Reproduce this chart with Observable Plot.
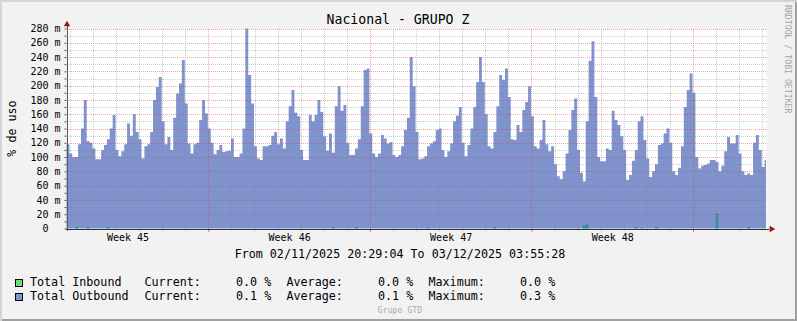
<!DOCTYPE html>
<html>
<head>
<meta charset="utf-8">
<script src="https://cdn.jsdelivr.net/npm/d3@7"></script>
<script src="https://cdn.jsdelivr.net/npm/@observablehq/plot@0.6"></script>
<style>
  html, body { margin: 0; padding: 0; background: #f2f2f2; }
  #wrap { position: relative; width: 797px; height: 321px; background: #f2f2f2; overflow: hidden;
          box-shadow: inset 2px 2px 0 #d4d4d4, inset -2px -2px 0 #a0a0a0;
          font-family: "DejaVu Sans Mono", monospace; }
  #wrap > svg { position: absolute; left: 0; top: 0; }
</style>
</head>
<body>
<div id="wrap"></div>
<script>
// ---------- data (values in milli-percent, "m") ----------
const title = "Nacional - GRUPO Z";
const yLabel = "% de uso";
const periodText = "From 02/11/2025 20:29:04 To 03/12/2025 03:55:28";
const watermark = "RRDTOOL / TOBI OETIKER";
const footer = "Grupo GTD";

const startTime = new Date(Date.UTC(2025, 10, 2, 20, 29, 4));
const endTime = new Date(Date.UTC(2025, 11, 3, 3, 55, 28));
const stepHours = 3;

const outbound = [
118,105,100,100,118,140,180,122,120,112,
97,97,110,117,125,140,159,110,101,108,
118,147,130,160,135,125,98,115,118,135,
180,198,212,150,118,128,110,155,189,203,
236,175,119,105,118,120,152,180,161,140,
120,104,110,117,107,108,109,126,100,100,
105,140,280,215,175,115,98,96,115,115,
117,130,135,118,126,112,150,171,194,162,
157,110,96,96,159,150,159,180,163,129,
109,133,106,171,199,165,173,120,103,103,
112,125,171,222,224,133,105,100,105,131,
126,119,121,103,100,103,115,138,155,240,
199,135,97,98,101,115,119,122,138,140,
110,100,108,119,150,158,170,120,101,117,
140,170,205,240,205,160,115,112,135,171,
215,208,224,184,125,124,145,135,166,177,
199,157,115,112,124,152,118,108,115,90,
73,69,80,105,138,166,182,110,78,66,
150,235,262,184,100,94,94,112,110,165,
152,145,129,110,68,75,95,110,150,157,
124,98,72,80,90,117,119,133,140,120,
80,75,85,115,170,194,217,190,100,84,
88,89,91,96,96,93,80,88,108,128,
119,119,131,105,80,75,77,75,120,131,
110,86,96
];
// inbound is zero except these few small blips
const inboundIdx = [3, 7, 14, 92, 100, 125, 148, 179, 180, 197, 199, 204, 225, 236];
const inboundVal = [2, 2, 2, 2, 2, 1, 2, 5, 6, 2, 1, 2, 21, 2];

const yTickValues = [0,20,40,60,80,100,120,140,160,180,200,220,240,260,280];
const yTickLabels = ["0\u00a0\u00a0","20 m","40 m","60 m","80 m","100 m","120 m","140 m","160 m","180 m","200 m","220 m","240 m","260 m","280 m"];
const weekLabels = ["Week 45","Week 46","Week 47","Week 48"];
const weekLabelDates = [Date.UTC(2025,10,5,12), Date.UTC(2025,10,12,12), Date.UTC(2025,10,19,12), Date.UTC(2025,10,26,12)].map(d => new Date(d));
const weekStarts = [Date.UTC(2025,10,9), Date.UTC(2025,10,16), Date.UTC(2025,10,23), Date.UTC(2025,10,30)].map(d => new Date(d));

const legendNames = ["Total Inbound", "Total Outbound"];
const legendColors = ["#77dc77", "#7f94cf"];
const legendCurrent = [0.0, 0.1];
const legendAverage = [0.0, 0.1];
const legendMaximum = [0.0, 0.3];

// ---------- build table ----------
const inbound = outbound.map(() => 0);
inboundIdx.forEach((k, j) => { inbound[k] = inboundVal[j]; });
const STEP = stepHours * 3600e3;
const rows = outbound.map((v, i) => ({t: new Date(+startTime + i * STEP), out: v, inb: inbound[i]}));
rows.push({t: endTime, out: outbound[outbound.length - 1], inb: inbound[inbound.length - 1]});

const days = d3.utcDay.range(d3.utcDay.ceil(startTime), endTime).filter(d => !weekStarts.some(w => +w === +d));
const yMinor = d3.range(10, 281, 10).filter(v => v % 20 !== 0);
const yMajor = d3.range(20, 281, 20);
const yAll = d3.range(0, 281, 10);
const yLabelMap = new Map(yTickValues.map((v, i) => [v, yTickLabels[i]]));
const wLabelMap = new Map(weekLabelDates.map((d, i) => [+d, weekLabels[i]]));

const gridGray = {stroke: "rgb(130,130,130)", strokeOpacity: 0.4, strokeDasharray: "1,1", shapeRendering: "crispEdges"};
const gridRed = {stroke: "rgb(225,60,60)", strokeOpacity: 0.45, strokeDasharray: "1,1", shapeRendering: "crispEdges"};
const axisColor = "#2b3340";
const arrowColor = "#8e1c1c";

const chart = Plot.plot({
  width: 797, height: 246,
  marginLeft: 66.5, marginRight: 31, marginTop: 28.5, marginBottom: 17.5,
  x: {type: "utc", domain: [startTime, endTime]},
  y: {domain: [0, 280]},
  style: {background: "transparent", overflow: "visible", fontFamily: "DejaVu Sans Mono", color: "#000"},
  marks: [
    Plot.frame({fill: "white", stroke: null}),
    Plot.areaY(rows, {x: "t", y: "out", curve: "step-after", fill: legendColors[1]}),
    Plot.areaY(rows, {x: "t", y: "inb", curve: "step-after", fill: "#3d8f96"}),
    Plot.ruleY(yMinor, gridGray),
    Plot.ruleY(yMajor, gridRed),
    Plot.ruleX(days, gridGray),
    Plot.ruleX(weekStarts, gridRed),
    Plot.axisY({ticks: yAll, tickSize: 2, fill: null, stroke: "#555", label: null}),
    Plot.axisY({ticks: yTickValues, tickSize: 0, tickPadding: 6.5, tickFormat: d => yLabelMap.get(d), fontSize: 10, label: null}),
    Plot.axisX({ticks: days, tickSize: 2, fill: null, stroke: "#999", label: null}),
    Plot.axisX({ticks: weekStarts, tickSize: 3, fill: null, stroke: "#d04040", label: null}),
    Plot.axisX({ticks: weekLabelDates, tickSize: 0, tickPadding: 5, tickFormat: d => wLabelMap.get(+d), fontSize: 10, label: null}),
    Plot.ruleY([0], {stroke: axisColor, insetLeft: -1, insetRight: -3, shapeRendering: "crispEdges"}),
    Plot.ruleX([startTime], {stroke: "#555", insetTop: -6, insetBottom: -2, shapeRendering: "crispEdges"}),
    Plot.dot([0], {x: () => endTime, y: () => 0, symbol: "triangle", rotate: 90, dx: 5, r: 2.4, fill: arrowColor, stroke: null}),
    Plot.dot([0], {x: () => startTime, y: () => 280, symbol: "triangle", dy: -4.5, r: 2.4, fill: arrowColor, stroke: null})
  ]
});
const wrap = document.getElementById("wrap");
wrap.appendChild(chart);

// ---------- text overlay ----------
const ns = "http://www.w3.org/2000/svg";
const ov = document.createElementNS(ns, "svg");
ov.setAttribute("width", 797); ov.setAttribute("height", 321);
ov.setAttribute("font-family", "DejaVu Sans Mono");
wrap.appendChild(ov);
function txt(s, attrs) {
  const t = document.createElementNS(ns, "text");
  for (const k in attrs) t.setAttribute(k, attrs[k]);
  t.style.whiteSpace = "pre";
  t.textContent = s;
  ov.appendChild(t);
  return t;
}
txt(title, {x: 398, y: 24, "font-size": 13.2, "text-anchor": "middle"});
txt(yLabel, {transform: "translate(15.5,128.5) rotate(-90)", "font-size": 11.7, "text-anchor": "middle"});
txt(watermark, {transform: "translate(785,5) rotate(90)", "font-size": 8.2, fill: "#a3a3a3"});
txt(periodText, {x: 400, y: 258, "font-size": 11.7, "text-anchor": "middle"});
txt(footer, {x: 400, y: 313, "font-size": 8.2, fill: "#aaaaaa", "text-anchor": "middle"});
const colX = [30, 144.5, 236, 286.5, 378, 428.5, 520];
legendNames.forEach((name, i) => {
  const base = 286 + i * 14;
  const r = document.createElementNS(ns, "rect");
  r.setAttribute("x", 15.5); r.setAttribute("y", base - 6.5);
  r.setAttribute("width", 7); r.setAttribute("height", 7);
  r.setAttribute("fill", legendColors[i]); r.setAttribute("stroke", "#000");
  ov.appendChild(r);
  const parts = [name, "Current:", legendCurrent[i].toFixed(1) + " %", "Average:", legendAverage[i].toFixed(1) + " %", "Maximum:", legendMaximum[i].toFixed(1) + " %"];
  parts.forEach((p, j) => txt(p, {x: colX[j], y: base, "font-size": 11.7}));
});
</script>
</body>
</html>
